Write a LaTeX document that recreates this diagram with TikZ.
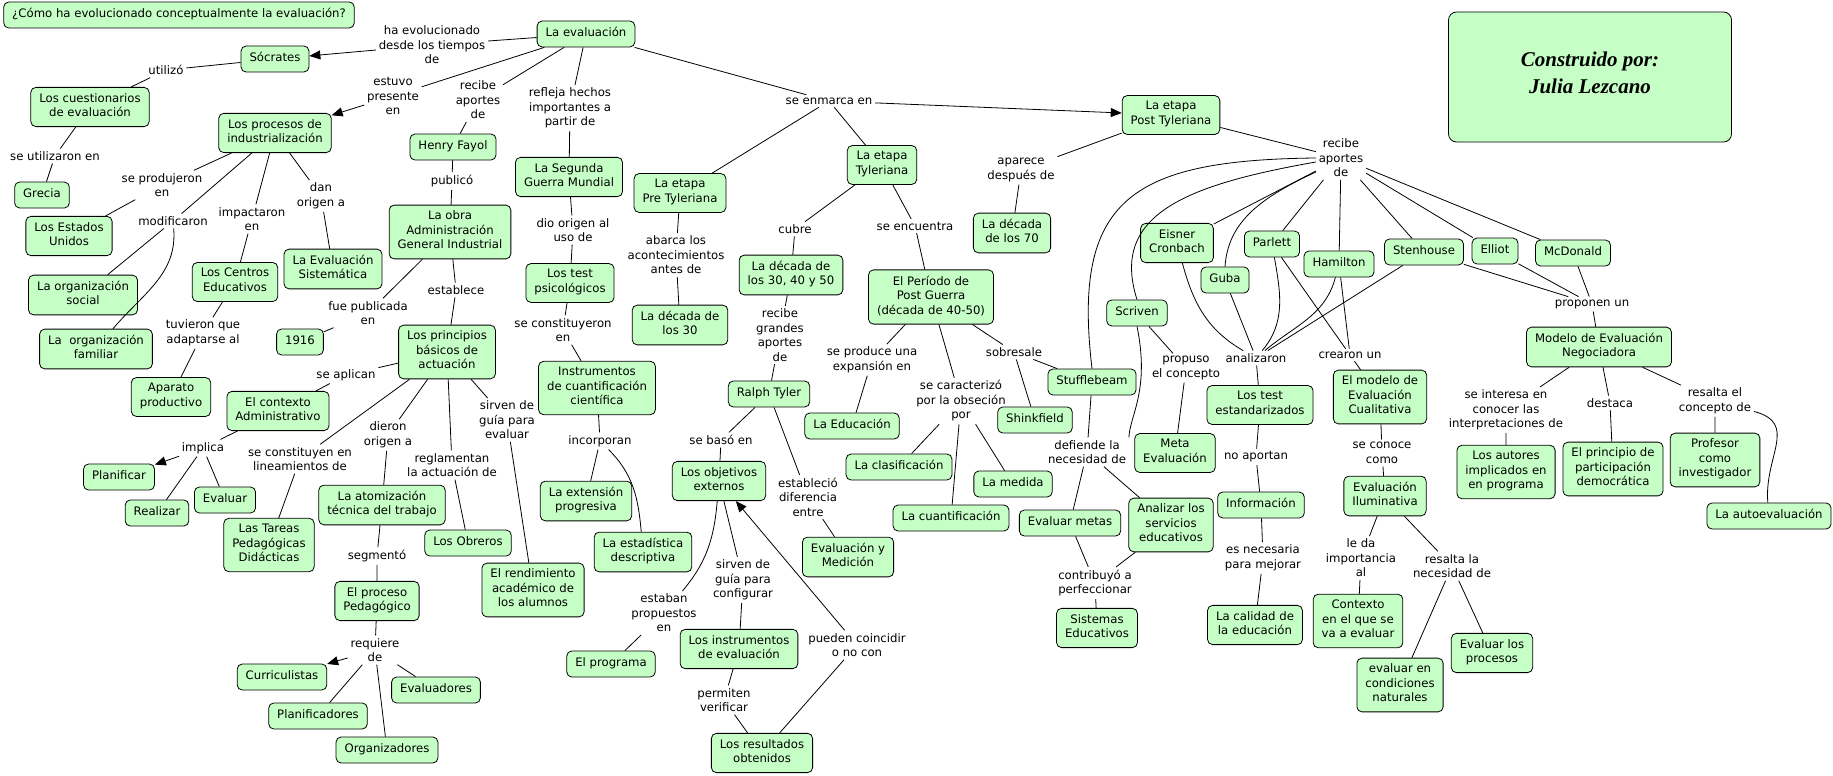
\documentclass[tikz,border=0pt]{standalone}
\usepackage{fontspec}
\setmainfont{DejaVu Sans}
\newfontfamily\authorfont{Liberation Serif}
\usepackage{tikz}
\usetikzlibrary{arrows.meta,shapes}
\definecolor{cmapgreen}{RGB}{198,255,198}
\newcommand{\cmapfont}{\fontsize{11.7}{14.5}\selectfont}

\begin{document}
\begin{tikzpicture}[x=1pt,y=-1pt,line width=0.8pt,
    concept/.style={draw,fill=cmapgreen,rounded corners=5pt,align=center,
      inner xsep=8.5pt,inner ysep=5.75pt,font=\cmapfont,
      execute at begin node=\strut,execute at end node=\strut},
    link/.style={align=center,inner sep=2.5pt,font=\cmapfont},
    >={Triangle[length=11pt,width=9pt]}]
\fill[white] (0,0) rectangle (1833,776);
\useasboundingbox (0,0) rectangle (1833,776);

\node[concept] (title) at (179,15) {¿Cómo ha evolucionado conceptualmente la evaluación?};
\node[concept,minimum width=283pt,minimum height=130pt,rounded corners=8pt,
    font={\authorfont\bfseries\itshape\fontsize{21}{27}\selectfont}] (autor) at (1590,77)
    {Construido por:\\Julia Lezcano};

\node[concept] (eval) at (586,34) {La evaluación};
\node[concept] (socr) at (275,59) {Sócrates};
\node[concept] (cuest) at (90,107) {Los cuestionarios\\de evaluación};
\node[concept] (grecia) at (42,195) {Grecia};
\node[concept] (proc) at (275,133) {Los procesos de\\industrialización};
\node[concept] (eeuu) at (69,236) {Los Estados\\Unidos};
\node[concept] (orgsoc) at (83,295) {La organización\\social};
\node[concept] (orgfam) at (96,349) {La\ \ organización\\familiar};
\node[concept] (centros) at (235,282) {Los Centros\\Educativos};
\node[concept] (aparato) at (171,397) {Aparato\\productivo};
\node[concept] (evsis) at (333,269) {La Evaluación\\Sistemática};
\node[concept] (fayol) at (453,147) {Henry Fayol};
\node[concept] (obra) at (450,232) {La obra\\Administración\\General Industrial};
\node[concept] (y1916) at (300,342) {1916};
\node[concept] (princ) at (447,352) {Los principios\\básicos de\\actuación};
\node[concept] (contexto) at (278,411) {El contexto\\Administrativo};
\node[concept] (planif) at (119,477) {Planificar};
\node[concept] (evaluar) at (225,500) {Evaluar};
\node[concept] (realizar) at (157,513) {Realizar};
\node[concept] (tareas) at (269,545) {Las Tareas\\Pedagógicas\\Didácticas};
\node[concept] (atom) at (382,505) {La atomización\\técnica del trabajo};
\node[concept] (obreros) at (468,543) {Los Obreros};
\node[concept] (rend) at (533,590) {El rendimiento\\académico de\\los alumnos};
\node[concept] (procped) at (377,601) {El proceso\\Pedagógico};
\node[concept] (curric) at (282,677) {Curriculistas};
\node[concept] (planifs) at (318,716) {Planificadores};
\node[concept] (organiz) at (387,750) {Organizadores};
\node[concept] (evaluad) at (436,690) {Evaluadores};
\node[concept] (guerra) at (569,177) {La Segunda\\Guerra Mundial};
\node[concept] (testps) at (570,283) {Los test\\psicológicos};
\node[concept] (instcu) at (597,388) {Instrumentos\\de cuantificación\\científica};
\node[concept] (extens) at (586,501) {La extensión\\progresiva};
\node[concept] (estad) at (643,552) {La estadística\\descriptiva};
\node[concept] (pre) at (680,193) {La etapa\\Pre Tyleriana};
\node[concept] (dec30) at (680,325) {La década de\\los 30};
\node[concept] (tyl) at (882,165) {La etapa\\Tyleriana};
\node[concept] (dec3050) at (791,275) {La década de\\los 30, 40 y 50};
\node[concept] (ralph) at (769,394) {Ralph Tyler};
\node[concept] (objext) at (719,481) {Los objetivos\\externos};
\node[concept] (evmed) at (848,557) {Evaluación y\\Medición};
\node[concept] (programa) at (611,664) {El programa};
\node[concept] (instev) at (739,649) {Los instrumentos\\de evaluación};
\node[concept] (result) at (762,753) {Los resultados\\obtenidos};
\node[concept] (postg) at (931,297) {El Período de\\Post Guerra\\(década de 40-50)};
\node[concept] (educ) at (852,426) {La Educación};
\node[concept] (clasif) at (899,467) {La clasificación};
\node[concept] (medida) at (1013,484) {La medida};
\node[concept] (cuantif) at (951,518) {La cuantificación};
\node[concept] (shink) at (1035,420) {Shinkfield};
\node[concept] (stuff) at (1092,382) {Stufflebeam};
\node[concept] (evmetas) at (1070,523) {Evaluar metas};
\node[concept] (analiz) at (1171,525) {Analizar los\\servicios\\educativos};
\node[concept] (sistemas) at (1097,628) {Sistemas\\Educativos};
\node[concept] (post) at (1171,115) {La etapa\\Post Tyleriana};
\node[concept] (dec70) at (1012,233) {La década\\de los 70};
\node[concept] (scriv) at (1137,313) {Scriven};
\node[concept] (meta) at (1175,453) {Meta\\Evaluación};
\node[concept] (eisner) at (1177,243) {Eisner\\Cronbach};
\node[concept] (guba) at (1225,280) {Guba};
\node[concept] (parlett) at (1272,244) {Parlett};
\node[concept] (hamil) at (1339,264) {Hamilton};
\node[concept] (stenh) at (1424,252) {Stenhouse};
\node[concept] (elliot) at (1495,251) {Elliot};
\node[concept] (mcdon) at (1573,253) {McDonald};
\node[concept] (testest) at (1260,405) {Los test\\estandarizados};
\node[concept] (info) at (1261,505) {Información};
\node[concept] (calidad) at (1255,625) {La calidad de\\la educación};
\node[concept] (modcual) at (1380,397) {El modelo de\\Evaluación\\Cualitativa};
\node[concept] (ilum) at (1385,496) {Evaluación\\Iluminativa};
\node[concept] (contev) at (1358,621) {Contexto\\en el que se\\va a evaluar};
\node[concept] (condnat) at (1400,685) {evaluar en\\condiciones\\naturales};
\node[concept] (evproc) at (1492,653) {Evaluar los\\procesos};
\node[concept] (negoc) at (1599,347) {Modelo de Evaluación\\Negociadora};
\node[concept] (autores) at (1506,472) {Los autores\\implicados en\\en programa};
\node[concept] (princdem) at (1613,469) {El principio de\\participación\\democrática};
\node[concept] (profesor) at (1715,460) {Profesor\\como\\investigador};
\node[concept] (autoev) at (1769,516) {La autoevaluación};

\node[link] (lEvol) at (432,45) {ha evolucionado\\desde los tiempos\\de};
\node[link] (lUtil) at (166,70) {utilizó};
\node[link] (lUsad) at (55,156) {se utilizaron en};
\node[link] (lPres) at (393,96) {estuvo\\presente\\en};
\node[link] (lProd) at (162,185) {se produjeron\\en};
\node[link] (lModi) at (173,221) {modificaron};
\node[link] (lImpa) at (252,219) {impactaron\\en};
\node[link] (lDan) at (321,196) {dan\\origen a};
\node[link] (lTuvi) at (203,333) {tuvieron que\\adaptarse al};
\node[link] (lReci) at (478,100) {recibe\\aportes\\de};
\node[link] (lPubl) at (452,181) {publicó};
\node[link] (lFuep) at (368,313) {fue publicada\\en};
\node[link] (lEsta) at (456,290) {establece};
\node[link] (lApli) at (346,375) {se aplican};
\node[link] (lImpl) at (203,448) {implica};
\node[link] (lLine) at (300,459) {se constituyen en\\lineamientos de};
\node[link] (lDier) at (388,435) {dieron\\origen a};
\node[link] (lRegl) at (452,465) {reglamentan\\la actuación de};
\node[link] (lSirv) at (507,420) {sirven de\\guía para\\evaluar};
\node[link] (lSegm) at (377,556) {segmentó};
\node[link] (lRequ) at (375,650) {requiere\\de};
\node[link] (lRefl) at (570,108) {refleja hechos\\importantes a\\partir de};
\node[link] (lDio) at (573,230) {dio origen al\\uso de};
\node[link] (lCons) at (563,330) {se constituyeron\\en};
\node[link] (lInco) at (600,441) {incorporan};
\node[link] (lEnma) at (829,101) {se enmarca en};
\node[link] (lAbar) at (676,255) {abarca los\\acontecimientos\\antes de};
\node[link] (lCubr) at (795,229) {cubre};
\node[link] (lEncu) at (915,226) {se encuentra};
\node[link] (lGran) at (780,335) {recibe\\grandes\\aportes\\de};
\node[link] (lBaso) at (721,440) {se basó en};
\node[link] (lEstb) at (808,497) {estableció\\diferencia\\entre};
\node[link] (lProp) at (664,613) {estaban\\propuestos\\en};
\node[link] (lConf) at (743,580) {sirven de\\guía para\\configurar};
\node[link] (lPerm) at (724,700) {permiten\\verificar};
\node[link] (lCoin) at (857,645) {pueden coincidir\\o no con};
\node[link] (lExpa) at (872,360) {se produce una\\expansión en};
\node[link] (lCara) at (961,401) {se caracterizó\\por la obseción\\por};
\node[link] (lSobr) at (1014,352) {sobresale};
\node[link] (lDefi) at (1087,452) {defiende la\\necesidad de};
\node[link] (lCont) at (1095,583) {contribuyó a\\perfeccionar};
\node[link] (lApar) at (1021,170) {aparece\\después de};
\node[link] (lRapo) at (1341,158) {recibe\\aportes\\de};
\node[link] (lProu) at (1186,368) {propuso\\el concepto};
\node[link] (lAnal) at (1256,358) {analizaron};
\node[link] (lCrea) at (1350,355) {crearon un};
\node[link] (lNoap) at (1256,457) {no aportan};
\node[link] (lNece) at (1263,558) {es necesaria\\para mejorar};
\node[link] (lCono) at (1382,453) {se conoce\\como};
\node[link] (lLeda) at (1361,558) {le da\\importancia\\al};
\node[link] (lResn) at (1452,566) {resalta la\\necesidad de};
\node[link] (lProp2) at (1592,304) {proponen un};
\node[link] (lInte) at (1506,410) {se interesa en\\conocer las\\interpretaciones de};
\node[link] (lDest) at (1610,403) {destaca};
\node[link] (lResc) at (1715,401) {resalta el\\concepto de};

\draw (eval) -- (lEvol);
\draw[->] (lEvol) -- (socr);
\draw (socr) -- (lUtil) -- (cuest) -- (lUsad) -- (grecia);
\draw (eval) -- (lPres);
\draw[->] (lPres) -- (proc);
\draw (proc) -- (lProd) -- (eeuu);
\draw (proc) -- (lModi) -- (orgsoc);
\draw (lModi) to[out=-85,in=50] (orgfam);
\draw (proc) -- (lImpa) -- (centros) -- (lTuvi) -- (aparato);
\draw (proc) -- (lDan) -- (evsis);
\draw (eval) -- (lReci) -- (fayol) -- (lPubl) -- (obra);
\draw (obra) -- (lFuep) -- (y1916);
\draw (obra) -- (lEsta) -- (princ);
\draw (princ) -- (lApli) -- (contexto) -- (lImpl);
\draw[->] (lImpl) -- (planif);
\draw (lImpl) -- (realizar);
\draw (lImpl) -- (evaluar);
\draw (princ) -- (lLine) -- (tareas);
\draw (princ) -- (lDier) -- (atom) -- (lSegm) -- (procped) -- (lRequ);
\draw[->] (lRequ) -- (curric);
\draw (lRequ) -- (planifs);
\draw (lRequ) -- (organiz);
\draw (lRequ) -- (evaluad);
\draw (princ) -- (lRegl) -- (obreros);
\draw (princ) -- (lSirv) -- (rend);
\draw (eval) -- (lRefl) -- (guerra) -- (lDio) -- (testps) -- (lCons) -- (instcu) -- (lInco) -- (extens);
\draw (lInco) to[out=-45,in=95] (estad);
\draw (eval) -- (lEnma);
\draw[->] (lEnma) -- (post);
\draw (lEnma) -- (pre) -- (lAbar) -- (dec30);
\draw (lEnma) -- (tyl) -- (lCubr) -- (dec3050) -- (lGran) -- (ralph) -- (lBaso) -- (objext);
\draw (tyl) -- (lEncu) -- (postg);
\draw (ralph) -- (lEstb) -- (evmed);
\draw (objext) to[out=-95,in=50] (lProp);
\draw (lProp) -- (programa);
\draw (objext) -- (lConf) -- (instev) -- (lPerm) -- (result) -- (lCoin);
\draw[->] (lCoin) -- (objext);
\draw (postg) -- (lExpa) -- (educ);
\draw (postg) -- (lCara) -- (clasif);
\draw (lCara) -- (cuantif);
\draw (lCara) -- (medida);
\draw (postg) -- (lSobr) -- (shink);
\draw (lSobr) -- (stuff);
\draw (stuff) -- (lDefi) -- (evmetas) -- (lCont) -- (sistemas);
\draw (lDefi) -- (analiz) -- (lCont);
\draw (scriv.south) .. controls (1150,390) and (1130,415) .. (lDefi.north east);
\draw (post) -- (lApar) -- (dec70);
\draw (post) -- (lRapo);
\draw (lRapo.west) .. controls (1130,160) and (1072,200) .. (stuff.north);
\draw ([yshift=-4pt]lRapo.west) .. controls (1185,185) and (1110,215) .. (scriv.north);
\draw ([yshift=-14pt]lRapo.west) .. controls (1255,200) and (1228,225) .. (guba.north);
\draw (lRapo) -- (eisner);
\draw (lRapo) -- (parlett);
\draw (lRapo) -- (hamil);
\draw (lRapo) -- (stenh);
\draw (lRapo) -- (elliot);
\draw (lRapo) -- (mcdon);
\draw (scriv) -- (lProu) -- (meta);
\draw (eisner) to[out=-75,in=150] (lAnal);
\draw (guba) -- (lAnal);
\draw (parlett) to[out=-80,in=50] (lAnal);
\draw (hamil) to[out=-105,in=40] (lAnal);
\draw (stenh) -- (lAnal);
\draw (lAnal) -- (testest) -- (lNoap) -- (info) -- (lNece) -- (calidad);
\draw (parlett) -- (lCrea);
\draw (hamil) -- (lCrea);
\draw (lCrea) -- (modcual) -- (lCono) -- (ilum) -- (lLeda) -- (contev);
\draw (ilum) -- (lResn) -- (condnat);
\draw (lResn) -- (evproc);
\draw (stenh) -- (lProp2);
\draw (elliot) -- (lProp2);
\draw (mcdon) -- (lProp2);
\draw (lProp2) -- (negoc);
\draw (negoc) -- (lInte) -- (autores);
\draw (negoc) -- (lDest) -- (princdem);
\draw (negoc) -- (lResc) -- (profesor);
\draw (lResc) to[out=-15,in=95,looseness=1.3] (autoev);
\end{tikzpicture}
\end{document}
